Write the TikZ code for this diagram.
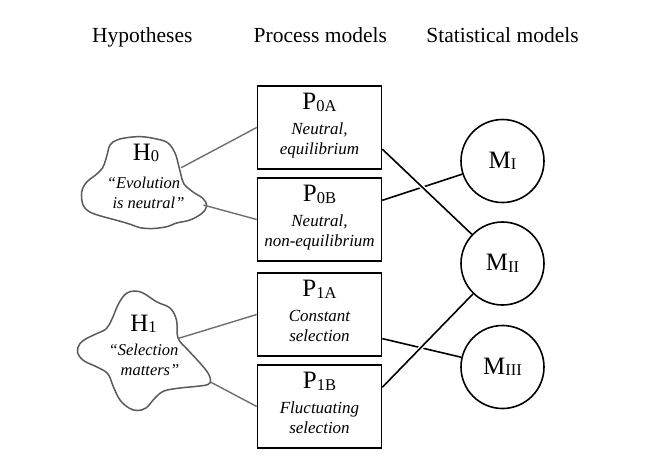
\documentclass[tikz,border=0pt]{standalone}
\usepackage{fontspec}
\setmainfont{Liberation Serif}
\definecolor{cloudgray}{HTML}{5A5A5A}
\definecolor{linkgray}{HTML}{6E6E6E}
% lowered, reduced-size index after a capital letter
\newcommand{\lowsc}[1]{\raisebox{-1.5pt}{\fontsize{16.5}{19}\selectfont #1}}
\begin{document}
\begin{tikzpicture}[x=1pt,y=-1pt,
  heading/.style={anchor=base,inner sep=0pt,font=\fontsize{21.5}{26}\selectfont},
  procbox/.style={draw=black,line width=1.6pt,minimum width=124pt,minimum height=83pt,inner sep=0pt},
  statcirc/.style={circle,draw=black,line width=1.6pt,minimum size=83pt,inner sep=0pt,font=\fontsize{25}{29}\selectfont},
  title/.style={anchor=base,inner sep=0pt,font=\fontsize{25}{29}\selectfont},
  note/.style={anchor=base,inner sep=0pt,font=\fontsize{17}{20}\selectfont\itshape},
  cloudnote/.style={anchor=base,inner sep=0pt,font=\fontsize{16.5}{20}\selectfont\itshape},
  cloudline/.style={draw=cloudgray,line width=1.5pt,line join=round},
  link/.style={draw=linkgray,line width=1.4pt},
  edge/.style={draw=black,line width=1.6pt},
  over/.style={preaction={draw=white,line width=4.5pt,shorten <=3pt,shorten >=3pt}},
]
\useasboundingbox (0,0) rectangle (650,464);

% column headings
\node[heading] (hhyp)  at (142.3,42.7) {Hypotheses};
\node[heading] (hproc) at (320.3,42.7) {Process models};
\node[heading] (hstat) at (502.5,42.7) {Statistical models};

% hypothesis clouds
\draw[cloudline] plot[smooth cycle,tension=0.6] coordinates {
  (110,145) (117,140) (128,137.5) (141.7,136.7) (156.7,139) (168,143)
  (175,153) (178.5,165) (181,175) (184,184) (193,192) (203,198.5)
  (206.7,206) (201.7,213.5) (190,220) (176.7,223) (166.7,226.7)
  (153,228.5) (140,227.7) (131,224.5) (121,221.5) (110,218.5) (99,215.5)
  (89,211.5) (83,205) (81.7,192) (86.7,182) (95,175.5) (102.5,168) (106.5,157)};
\coordinate (h0a) at (181.2,167.7);
\coordinate (h0b) at (203.5,205);

\draw[cloudline] plot[smooth cycle,tension=0.6] coordinates {
  (127,293) (134,291) (143,293) (157,302) (170,308) (176.5,320)
  (178,338) (188,350) (200,363) (208,373) (210.5,380) (208,384.5)
  (195,386.5) (180,388) (164,391) (155,398) (146,408) (137,410.5)
  (129,408) (120,400) (113.5,387) (108,374) (98,367.5) (83.5,360.5)
  (77.5,352) (80,343.5) (87.5,338) (97,333.5) (106.5,328.5) (112,319)
  (117,307) (122,298)};
\coordinate (h1a) at (178,338.5);
\coordinate (h1b) at (210.5,382);

\node[title] (h0) at (146,160) {H\lowsc{0}};
\node[cloudnote] (h0l1) at (143.5,188) {“Evolution};
\node[cloudnote] (h0l2) at (148.5,208) {is neutral”};
\node[title] (h1) at (143.5,331) {H\lowsc{1}};
\node[cloudnote] (h1l1) at (143.5,355) {“Selection};
\node[cloudnote] (h1l2) at (150,375.7) {matters”};

% process models
\node[procbox] (p0a) at (319.5,127.5) {};
\node[procbox] (p0b) at (319.5,219.5) {};
\node[procbox] (p1a) at (319.5,314.5) {};
\node[procbox] (p1b) at (319.5,406.5) {};

\node[title] (p0at) at ([yshift=-24.5pt]p0a.north) {P\lowsc{0A}};
\node[note] (p0a1) at ([yshift=-49.5pt]p0a.north) {Neutral,};
\node[note] (p0a2) at ([yshift=-69.5pt]p0a.north) {equilibrium};
\node[title] (p0bt) at ([yshift=-24.5pt]p0b.north) {P\lowsc{0B}};
\node[note] (p0b1) at ([yshift=-49.5pt]p0b.north) {Neutral,};
\node[note] (p0b2) at ([yshift=-69.5pt]p0b.north) {non-equilibrium};
\node[title] (p1at) at ([yshift=-24.5pt]p1a.north) {P\lowsc{1A}};
\node[note] (p1a1) at ([yshift=-49.5pt]p1a.north) {Constant};
\node[note] (p1a2) at ([yshift=-69.5pt]p1a.north) {selection};
\node[title] (p1bt) at ([yshift=-24.5pt]p1b.north) {P\lowsc{1B}};
\node[note] (p1b1) at ([yshift=-49.5pt]p1b.north) {Fluctuating};
\node[note] (p1b2) at ([yshift=-69.5pt]p1b.north) {selection};

% statistical models
\node[statcirc] (m1) at (502.5,161) {M\lowsc{I}};
\node[statcirc] (m2) at (502.5,263.5) {M\lowsc{II}};
\node[statcirc] (m3) at (502.5,367) {M\lowsc{III}};

% hypotheses to process models
\draw[link] (h0a) -- (p0a.west);
\draw[link] (h0b) -- (p0b.west);
\draw[link] (h1a) -- (p1a.west);
\draw[link] (h1b) -- (p1b.west);

% process models to statistical models
\draw[edge] (p0b.17) -- (m1);
\draw[edge,over] (p0a.-19) -- (m2);
\draw[edge] (p1a.-21) -- (m3);
\draw[edge,over] (p1b.17) -- (m2);
\end{tikzpicture}
\end{document}
